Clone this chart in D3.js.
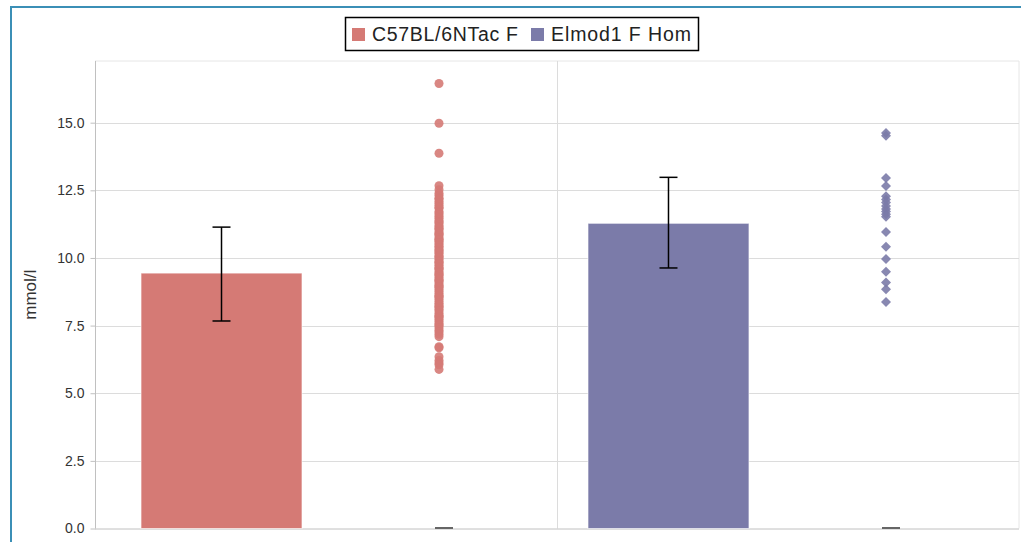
<!DOCTYPE html>
<html>
<head>
<meta charset="utf-8">
<script src="https://cdn.jsdelivr.net/npm/d3@7"></script>
<style>
  body { margin: 0; background: #fff; }
  svg { display: block; font-family: "Liberation Sans", Arial, sans-serif; }
</style>
</head>
<body>
<svg id="chart" width="1021" height="542"></svg>
<script>
// ---- data ----
const groups = ["C57BL/6NTac F", "Elmod1 F Hom"];
const colors = ["#d57a75", "#7b7ba9"];
const means = [9.44, 11.28];
const errLow = [7.67, 9.63];
const errHigh = [11.14, 12.98];
const yTicks = [0, 2.5, 5, 7.5, 10, 12.5, 15];
const yTitle = "mmol/l";
const pointsWT = [16.45, 14.98, 13.87, 12.67, 12.52,
  12.39, 12.31, 12.21, 12.18, 12.09, 12.02, 11.94, 11.87, 11.83, 11.71, 11.66, 11.59, 11.52, 11.47, 11.38,
  11.33, 11.29, 11.21, 11.14, 11.10, 11.05, 10.97, 10.91, 10.88, 10.82, 10.74, 10.69, 10.66, 10.61, 10.55,
  10.49, 10.43, 10.38, 10.31, 10.27, 10.22, 10.17, 10.08, 10.04, 10.01, 9.94, 9.88, 9.83, 9.79, 9.72, 9.66,
  9.61, 9.58, 9.49, 9.44, 9.39, 9.36, 9.29, 9.21, 9.17, 9.13, 9.05, 8.98, 8.94, 8.91, 8.83, 8.77, 8.69,
  8.62, 8.58, 8.55, 8.47, 8.39, 8.33, 8.26, 8.21, 8.18, 8.10, 8.04, 7.96, 7.88, 7.84, 7.81, 7.73, 7.66,
  7.58, 7.52, 7.49, 7.41, 7.33, 7.26, 7.18, 7.09, 6.72, 6.68, 6.35, 6.21, 6.12, 6.05, 5.88];
const pointsHom = [14.62, 14.52, 12.96, 12.66, 12.28, 12.16, 12.05, 11.92, 11.81, 11.72, 11.62, 11.52,
  10.96, 10.41, 9.96, 9.49, 9.09, 8.84, 8.37];
const slots = ["bar", "scatter"];

// ---- layout ----
const svg = d3.select("#chart");
const plot = { left: 95, right: 1019, top: 61, bottom: 528.5 };

svg.append("rect").attr("width", 1021).attr("height", 542).attr("fill", "#fff");

// outer blue frame
svg.append("path").attr("d", "M11,542V7H1021").attr("fill", "none")
  .attr("stroke", "#3b8fb6").attr("stroke-width", 2);

const y = d3.scaleLinear().domain([0, 17.28]).range([plot.bottom, plot.top]);
const xCat = d3.scaleBand().domain(groups).range([plot.left, plot.right]);
const xGroup = d3.scaleBand().domain(groups).range([plot.left, plot.right])
  .paddingInner(0.0268).paddingOuter(0.047).align(0.4226);
const xSlot = d3.scaleBand().domain(slots).range([0, xGroup.bandwidth()])
  .paddingInner(0.26).paddingOuter(0.13);
const barX = g => xGroup(g) + xSlot("bar");
const scatterX = g => xGroup(g) + xSlot("scatter") + xSlot.bandwidth() / 2;

// plot border
svg.append("path")
  .attr("d", `M${plot.left},${plot.top}H${plot.right}V${plot.bottom}`)
  .attr("fill", "none").attr("stroke", "#e6e6e6").attr("stroke-width", 1);

// horizontal grid
svg.append("g").selectAll("line").data(yTicks.filter(t => t > 0)).join("line")
  .attr("x1", plot.left).attr("x2", plot.right)
  .attr("y1", d => Math.round(y(d)) + 0.5).attr("y2", d => Math.round(y(d)) + 0.5)
  .attr("stroke", "#dcdcdc");

// vertical grid between categories
svg.append("line")
  .attr("x1", xCat(groups[1]) + 0.5).attr("x2", xCat(groups[1]) + 0.5)
  .attr("y1", plot.top).attr("y2", plot.bottom)
  .attr("stroke", "#dcdcdc");

// y axis
const yAxis = d3.axisLeft(y).tickValues(yTicks).tickFormat(d3.format(".1f")).tickSize(5).tickPadding(6);
const gy = svg.append("g").attr("transform", `translate(${plot.left + 0.5},0)`).call(yAxis);
gy.select(".domain").attr("stroke", "#c0c0c0").attr("d", `M0,${plot.top}V${plot.bottom}`);
gy.selectAll(".tick line").attr("stroke", "#c0c0c0");
gy.selectAll(".tick text").attr("fill", "#333").style("font-size", "14px")
  .style("font-family", "'Liberation Sans', Arial, sans-serif");

// x axis line
svg.append("line").attr("x1", plot.left).attr("x2", plot.right)
  .attr("y1", plot.bottom + 0.5).attr("y2", plot.bottom + 0.5).attr("stroke", "#c0c0c0");

// y title
svg.append("text").attr("transform", `translate(36,${(plot.top + plot.bottom) / 2}) rotate(-90)`)
  .attr("text-anchor", "middle").attr("fill", "#333").style("font-size", "17px").text(yTitle);

// bars
svg.append("g").selectAll("rect").data(groups).join("rect")
  .attr("x", g => barX(g)).attr("width", xSlot.bandwidth())
  .attr("y", (g, i) => y(means[i])).attr("height", (g, i) => y(0) - y(means[i]))
  .attr("fill", (g, i) => colors[i]).attr("stroke", "#fff").attr("stroke-opacity", 0.6).attr("stroke-width", 1);

// error bars
const eb = svg.append("g").attr("stroke", "#000").attr("stroke-width", 1.5).attr("fill", "none");
groups.forEach((g, i) => {
  const cx = barX(g) + xSlot.bandwidth() / 2;
  eb.append("line").attr("x1", cx).attr("x2", cx).attr("y1", y(errLow[i])).attr("y2", y(errHigh[i]));
  eb.append("line").attr("x1", cx - 9).attr("x2", cx + 9).attr("y1", y(errLow[i])).attr("y2", y(errLow[i]));
  eb.append("line").attr("x1", cx - 9).attr("x2", cx + 9).attr("y1", y(errHigh[i])).attr("y2", y(errHigh[i]));
});

// zero marks under scatter columns
svg.append("g").selectAll("line").data(groups).join("line")
  .attr("x1", g => scatterX(g) - 4).attr("x2", g => scatterX(g) + 14)
  .attr("y1", y(0) - 0.5).attr("y2", y(0) - 0.5)
  .attr("stroke", "#666").attr("stroke-width", 2);

// scatter circles
svg.append("g").selectAll("circle").data(pointsWT).join("circle")
  .attr("cx", scatterX(groups[0])).attr("cy", d => y(d)).attr("r", 4.5)
  .attr("fill", colors[0]).attr("fill-opacity", 0.9);

// scatter diamonds
svg.append("g").selectAll("path").data(pointsHom).join("path")
  .attr("d", d => { const cx = scatterX(groups[1]), cy = y(d);
    return `M${cx},${cy - 5}L${cx + 5},${cy}L${cx},${cy + 5}L${cx - 5},${cy}Z`; })
  .attr("fill", colors[1]).attr("fill-opacity", 0.9);

// legend
const lg = svg.append("g");
lg.append("rect").attr("x", 345.5).attr("y", 17.5).attr("width", 353).attr("height", 33)
  .attr("fill", "#fff").attr("stroke", "#000").attr("stroke-width", 1.5);
const legendX = [352, 531];
groups.forEach((g, i) => {
  lg.append("rect").attr("x", legendX[i]).attr("y", 28).attr("width", 13).attr("height", 13).attr("fill", colors[i]);
  lg.append("text").attr("x", legendX[i] + 20).attr("y", 41).attr("fill", "#222")
    .attr("textLength", i === 0 ? 146 : 140).attr("lengthAdjust", "spacing")
    .style("font-size", "19.5px").text(g);
});
</script>
</body>
</html>
